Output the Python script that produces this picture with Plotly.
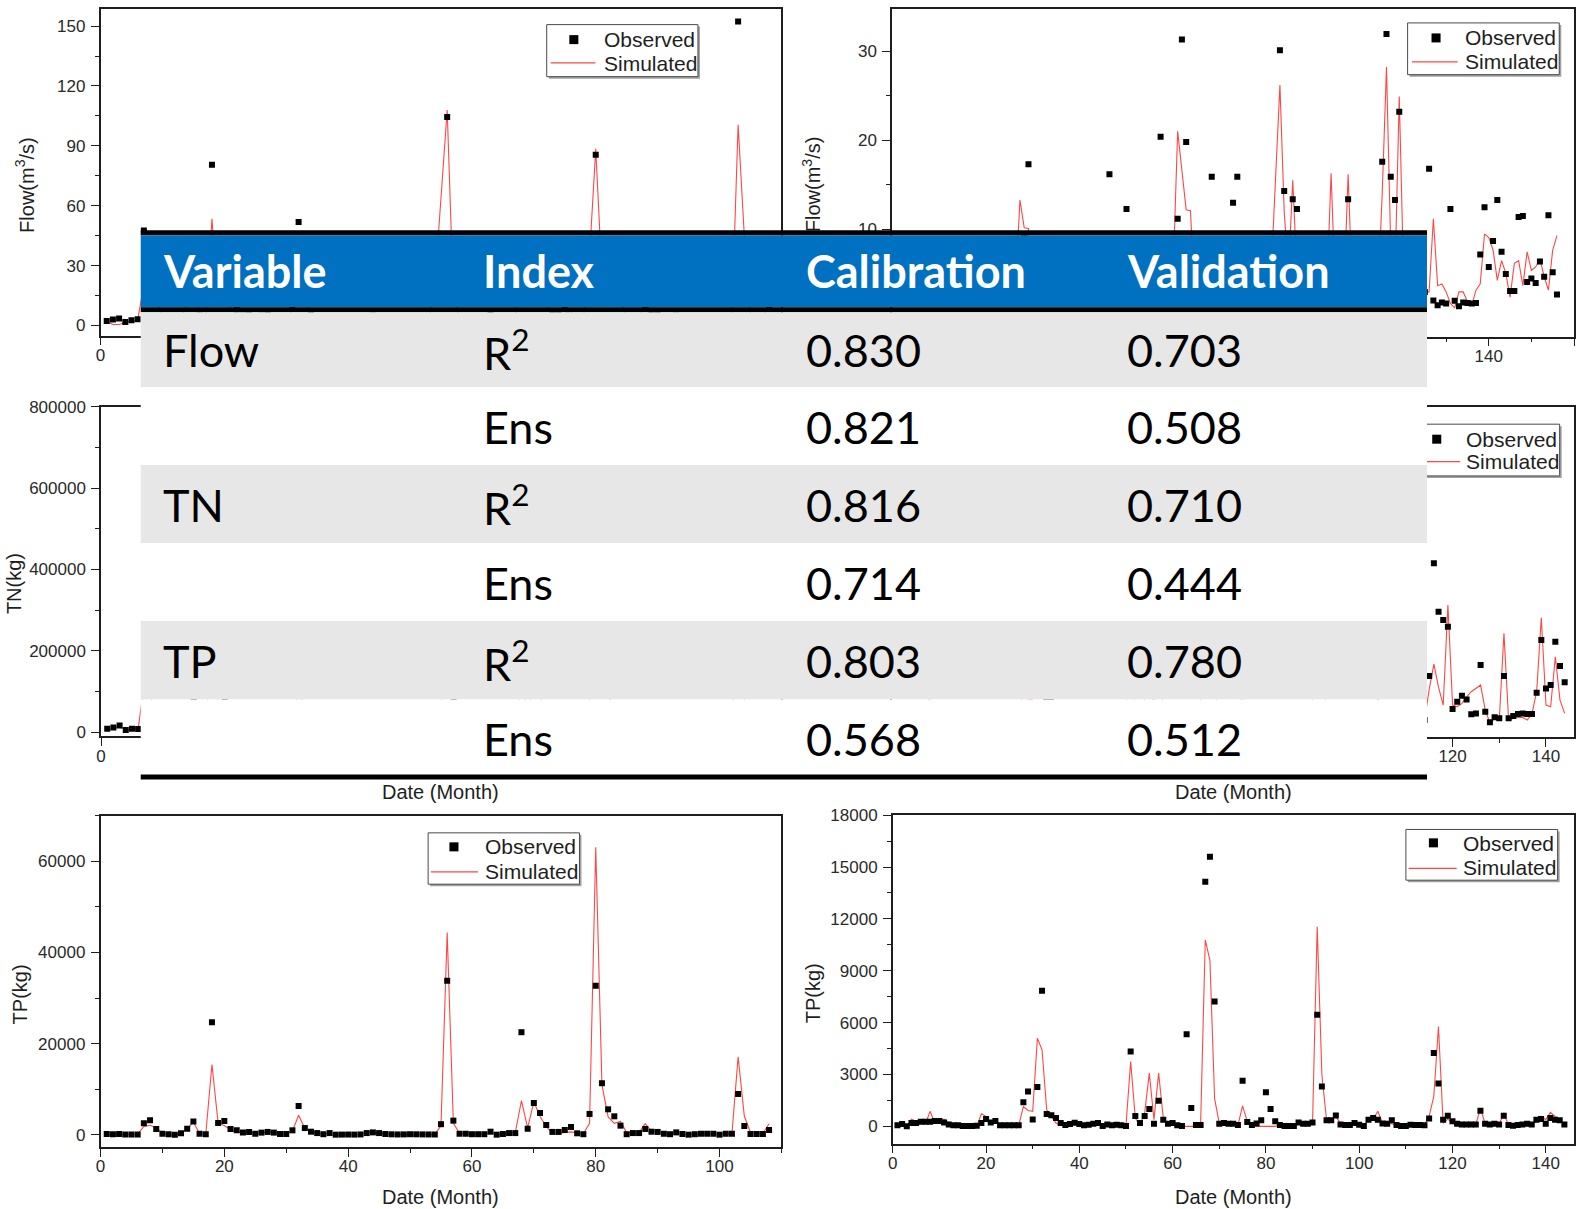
import plotly.graph_objects as go

W, H = 1585, 1209          # figure size (and target picture size)
# The page adds a body margin and the captured page is fitted back to W x H.
# Positions below are given in picture pixels and mapped back to figure fractions.
PAD = 8
SX, SY = W / (W + 2 * PAD), H / (H + 2 * PAD)
KX, BX = 1.002, -1.0       # small residual horizontal correction
BY = -1.5                  # small residual vertical correction

# ---------------- data ----------------
# Flow calibration (months 1..108)
flow_cal_obs = [2.3, 3.0, 3.5, 1.8, 2.6, 3.1, 47.6, 30.5, 12.0, 4.5,
                3.0, 2.5, 4.0, 12.5, 25.0, 5.0, 3.5, 80.5, 22.0, 28.0,
                12.0, 8.0, 5.0, 6.0, 3.5, 5.0, 6.0, 4.5, 3.0, 3.0,
                9.0, 51.8, 14.0, 7.0, 4.0, 2.5, 4.0, 2.0, 2.0, 2.0,
                2.0, 2.5, 4.0, 5.0, 4.0, 2.5, 2.0, 2.0, 2.0, 2.5,
                2.0, 2.0, 2.0, 2.0, 18.0, 104.5, 25.0, 4.0, 3.5, 3.0,
                3.0, 3.0, 6.5, 2.5, 3.0, 4.0, 4.0, 40.0, 11.0, 28.0,
                22.0, 14.0, 6.0, 6.0, 9.0, 13.0, 4.0, 3.0, 30.0, 85.6,
                38.0, 24.0, 18.0, 11.0, 3.0, 4.0, 4.0, 10.0, 6.0, 6.0,
                3.0, 2.5, 5.0, 3.0, 2.0, 2.5, 3.0, 3.0, 3.0, 2.0,
                3.0, 3.0, 152.3, 15.0, 3.0, 3.0, 3.0, 9.0]
flow_cal_sim = [2.0, 0.5, 0.5, 1.5, 2.0, 3.0, 20.0, 22.0, 14.0, 4.0,
                2.5, 2.0, 3.5, 11.0, 22.0, 4.0, 5.0, 53.5, 10.0, 16.0,
                9.0, 6.0, 5.0, 6.0, 3.0, 5.0, 6.0, 4.5, 3.0, 3.0,
                8.0, 35.0, 12.0, 6.0, 4.0, 2.0, 4.0, 1.5, 1.5, 1.5,
                1.5, 2.0, 4.0, 5.0, 4.0, 2.0, 1.5, 1.5, 1.5, 2.0,
                1.5, 1.5, 1.5, 20.0, 65.0, 108.0, 15.0, 4.0, 3.0, 2.5,
                2.5, 2.5, 5.0, 2.0, 3.0, 4.0, 4.5, 30.0, 12.0, 30.0,
                18.0, 11.0, 4.0, 4.0, 6.0, 7.0, 4.0, 3.0, 35.0, 88.5,
                25.0, 17.0, 12.0, 13.0, 4.0, 4.0, 4.0, 12.0, 6.0, 5.0,
                3.0, 2.0, 4.0, 2.0, 1.5, 2.0, 2.5, 2.5, 2.5, 1.5,
                2.5, 5.0, 100.6, 45.0, 5.0, 3.0, 3.0, 12.0]

# Flow validation (months 1..156)
flow_val_obs = [3.5, 4.0, 3.2, 5.1, 4.8, 6.0, 5.5, 6.2, 5.9, 5.0,
                4.2, 3.1, 2.5, 2.4, 2.2, 2.3, 2.6, 3.0, 4.5, 6.5,
                5.0, 5.8, 3.0, 2.5, 2.4, 2.6, 2.8, 7.5, 8.8, 4.5,
                9.2, 17.3, 6.5, 5.5, 4.0, 2.5, 2.2, 2.8, 3.0, 2.6,
                2.4, 2.8, 3.2, 3.5, 2.2, 2.5, 2.3, 2.6, 2.4, 2.2,
                16.2, 5.8, 3.0, 5.5, 12.3, 3.0, 8.0, 4.5, 3.0, 2.8,
                2.5, 2.4, 20.4, 7.5, 2.5, 2.6, 11.2, 31.3, 19.8, 4.0,
                3.2, 3.5, 3.0, 2.8, 15.9, 5.0, 3.5, 3.0, 4.5, 13.0,
                15.9, 6.0, 3.0, 2.5, 2.4, 2.6, 3.5, 3.0, 3.2, 4.0,
                30.1, 14.3, 4.5, 13.4, 12.3, 4.0, 3.0, 2.8, 3.5, 2.6,
                2.4, 4.5, 5.2, 6.0, 3.0, 2.8, 13.4, 3.5, 2.5, 2.4,
                2.2, 2.3, 2.6, 4.0, 17.6, 31.9, 15.9, 13.3, 23.2, 4.5,
                3.5, 2.5, 2.4, 2.6, 3.0, 16.8, 2.05, 1.5, 1.8, 1.7,
                12.3, 2.0, 1.4, 1.8, 1.75, 1.7, 1.75, 7.2, 12.5, 5.8,
                8.7, 13.3, 7.5, 5.0, 3.1, 3.1, 11.4, 11.5, 4.1, 4.5,
                4.0, 6.4, 4.7, 11.6, 5.2, 2.7]
flow_val_sim = [2.0, 2.5, 3.0, 4.0, 4.5, 5.0, 5.5, 5.0, 4.5, 4.0,
                3.0, 2.5, 2.0, 1.8, 1.8, 2.0, 2.2, 3.0, 5.0, 6.0,
                4.5, 5.0, 2.5, 2.0, 2.0, 2.2, 2.5, 6.0, 4.0, 13.3,
                10.2, 10.1, 4.0, 3.0, 2.5, 2.0, 2.0, 2.2, 2.5, 2.0,
                2.0, 2.2, 2.5, 2.8, 2.0, 2.0, 2.0, 2.0, 2.0, 2.0,
                2.5, 3.0, 2.5, 2.5, 3.0, 2.5, 3.0, 2.5, 2.0, 2.0,
                2.0, 2.0, 3.0, 3.0, 2.5, 6.0, 21.0, 16.5, 12.2, 12.1,
                3.0, 2.5, 2.5, 2.5, 4.0, 3.0, 2.5, 2.5, 2.5, 3.0,
                3.5, 2.5, 2.5, 2.0, 2.0, 2.0, 2.5, 2.5, 5.8, 16.0,
                26.2, 12.0, 5.0, 15.5, 5.0, 3.0, 2.5, 2.5, 2.5, 2.0,
                2.0, 3.0, 16.3, 3.0, 2.5, 3.0, 16.2, 3.0, 2.0, 2.0,
                2.0, 2.0, 2.5, 3.0, 14.0, 28.2, 8.0, 5.0, 24.9, 5.0,
                3.0, 2.5, 2.5, 2.5, 3.0, 3.0, 11.2, 3.7, 3.9, 3.0,
                1.7, 1.2, 3.0, 3.0, 1.9, 1.5, 3.2, 3.9, 9.5, 9.1,
                7.7, 4.3, 6.5, 5.1, 2.4, 6.2, 6.5, 3.7, 7.5, 5.4,
                5.8, 6.7, 4.7, 3.2, 7.7, 9.3]

# TN calibration (months 1..108)
tn_cal_obs = [8800, 12300, 17200, 5700, 8800, 8100, 95000, 110000, 45000, 20000,
              12000, 9000, 15000, 40000, 80000, 15000, 10000, 420000, 70000, 85000,
              40000, 30000, 18000, 22000, 12000, 18000, 22000, 16000, 10000, 10000,
              35000, 160000, 45000, 22000, 14000, 9000, 14000, 7000, 7000, 7000,
              7000, 9000, 14000, 18000, 14000, 9000, 7000, 7000, 7000, 9000,
              7000, 7000, 7000, 7000, 60000, 560000, 80000, 12000, 11000, 10000,
              10000, 10000, 22000, 8000, 10000, 14000, 14000, 360000, 40000, 150000,
              110000, 55000, 20000, 20000, 30000, 45000, 12000, 9000, 110000, 520000,
              230000, 120000, 90000, 45000, 9000, 12000, 12000, 35000, 20000, 18000,
              9000, 8000, 15000, 9000, 7000, 8000, 9000, 9000, 9000, 7000,
              9000, 9000, 200000, 50000, 9000, 9000, 9000, 30000]
tn_cal_sim = [6000, 9000, 14000, 6000, 7000, 9000, 120000, 90000, 40000, 15000,
              9000, 7000, 12000, 35000, 70000, 12000, 8000, 300000, 60000, 65000,
              35000, 25000, 15000, 20000, 10000, 15000, 20000, 14000, 8000, 8000,
              30000, 110000, 40000, 20000, 12000, 8000, 12000, 6000, 6000, 6000,
              6000, 8000, 12000, 15000, 12000, 8000, 6000, 6000, 6000, 8000,
              6000, 6000, 6000, 6000, 50000, 650000, 70000, 10000, 9000, 9000,
              9000, 9000, 18000, 7000, 9000, 12000, 12000, 140000, 35000, 160000,
              90000, 45000, 15000, 15000, 25000, 30000, 12000, 8000, 70000, 700000,
              210000, 90000, 60000, 70000, 9000, 12000, 12000, 45000, 18000, 16000,
              8000, 7000, 12000, 8000, 6000, 7000, 8000, 8000, 8000, 6000,
              8000, 8000, 330000, 80000, 10000, 8000, 8000, 45000]

# TN validation (months 1..144)
tn_val_obs = [12000, 15000, 9000, 18000, 16000, 22000, 20000, 25000, 21000, 17000,
              14000, 9000, 6000, 5000, 4000, 4000, 5000, 6000, 15000, 30000,
              18000, 20000, 7000, 5000, 5000, 6000, 7000, 60000, 90000, 20000,
              110000, 380000, 40000, 35000, 25000, 12000, 6000, 9000, 12000, 9000,
              6000, 7000, 9000, 12000, 4000, 8000, 5000, 7000, 5000, 4000,
              200000, 30000, 12000, 30000, 50000, 9000, 70000, 20000, 9000, 12000,
              5000, 4000, 250000, 50000, 6000, 6000, 480000, 460000, 300000, 9000,
              12000, 10000, 9000, 6000, 120000, 15000, 6000, 10000, 18000, 90000,
              50000, 15000, 5000, 4000, 4000, 4000, 12000, 9000, 9000, 12000,
              280000, 100000, 18000, 18000, 30000, 7000, 5000, 5000, 10000, 6000,
              4000, 18000, 22000, 18000, 9000, 8000, 16000, 5000, 4000, 4000,
              6000, 5000, 5000, 6300, 75600, 253200, 177000, 163900, 153300, 23600,
              35100, 44600, 38900, 15300, 16800, 93000, 19400, 2700, 10600, 9000,
              75600, 9000, 12600, 15800, 16800, 15800, 15800, 49300, 132400, 56200,
              61500, 129700, 91400, 65700]
tn_val_sim = [8000, 10000, 12000, 20000, 18000, 16000, 15000, 40000, 16000, 14000,
              20000, 10000, 4000, 3000, 3000, 3000, 3000, 4000, 30000, 25000,
              12000, 18000, 5000, 4000, 4000, 5000, 5000, 50000, 40000, 38000,
              220000, 190000, 45000, 28000, 10000, 5000, 5000, 7000, 9000, 7000,
              5000, 6000, 8000, 10000, 5000, 6000, 5000, 6000, 5000, 4000,
              160000, 25000, 6000, 35000, 140000, 18000, 140000, 25000, 7000, 5000,
              3000, 3000, 3000, 3000, 3000, 6000, 420000, 380000, 70000, 9000,
              10000, 9000, 7000, 5000, 50000, 12000, 5000, 3000, 3000, 3000,
              3000, 3000, 5000, 3000, 3000, 3000, 9000, 7000, 7000, 10000,
              450000, 120000, 18000, 20000, 28000, 7000, 5000, 5000, 8000, 5000,
              4000, 18000, 20000, 40000, 9000, 7000, 7000, 4000, 3000, 3000,
              4000, 4000, 4000, 6300, 55000, 94500, 57800, 29900, 187500, 29900,
              27300, 32600, 43000, 51000, 56200, 61500, 22000, 2100, 8900, 6300,
              142900, 6300, 8900, 10500, 10500, 6300, 16800, 50900, 167600, 29900,
              27300, 106100, 37800, 16800]

# TP calibration (months 1..108)
tp_cal_obs = [120, 100, 150, 50, 60, 40, 2500, 3150, 1250, 200,
              100, 0, 300, 1300, 2900, 200, 100, 24700, 2550, 3000,
              1250, 950, 450, 600, 200, 450, 600, 450, 150, 150,
              950, 6300, 1450, 650, 350, 100, 350, 0, 20, 30,
              20, 50, 350, 500, 350, 150, 80, 50, 60, 100,
              80, 60, 50, 40, 2300, 33800, 3080, 200, 200, 100,
              100, 100, 650, 0, 150, 350, 350, 22500, 1300, 6960,
              4760, 2130, 600, 600, 1030, 1690, 300, 100, 4550, 32700,
              11300, 5570, 4030, 1980, 100, 350, 350, 1250, 650, 600,
              200, 100, 500, 150, 0, 100, 200, 200, 200, 0,
              200, 200, 8940, 1900, 150, 150, 150, 1030]
tp_cal_sim = [0, 0, 0, 0, 0, 100, 1800, 2050, 1500, 300,
              100, 0, 300, 1300, 2800, 200, 100, 15400, 2500, 2000,
              1000, 600, 450, 600, 200, 450, 600, 450, 150, 150,
              800, 4250, 1400, 600, 350, 100, 350, 0, 0, 0,
              0, 50, 350, 500, 350, 150, 50, 50, 50, 100,
              50, 50, 0, 0, 2000, 44400, 2500, 300, 200, 100,
              100, 100, 500, 0, 150, 350, 400, 7500, 1500, 7200,
              4000, 1800, 300, 300, 500, 600, 400, 200, 2500, 63100,
              11000, 3900, 2500, 2900, 400, 500, 500, 2400, 800, 700,
              200, 100, 500, 150, 0, 100, 200, 200, 200, 0,
              200, 200, 17100, 4100, 500, 300, 300, 2400]

# TP validation (months 1..144)
tp_val_obs = [60, 135, 0, 190, 190, 270, 270, 270, 310, 310,
              230, 115, 60, 60, 20, 20, 20, 40, 190, 420,
              230, 310, 60, 60, 60, 60, 60, 1390, 2020, 400,
              2270, 7850, 710, 650, 480, 190, 80, 135, 210, 135,
              60, 100, 150, 190, 20, 115, 60, 100, 60, 20,
              4330, 600, 190, 600, 1000, 150, 1480, 385, 150, 190,
              60, 20, 5330, 1060, 80, 80, 14150, 15590, 7220, 150,
              190, 150, 150, 80, 2640, 250, 80, 170, 350, 1980,
              1000, 290, 80, 20, 20, 20, 230, 150, 150, 230,
              6450, 2310, 350, 350, 635, 115, 80, 80, 190, 100,
              20, 385, 480, 385, 170, 150, 350, 80, 20, 20,
              100, 80, 80, 60, 460, 4250, 2480, 385, 615, 290,
              150, 115, 115, 115, 115, 900, 150, 115, 150, 115,
              615, 80, 40, 80, 115, 150, 115, 385, 420, 150,
              480, 385, 350, 115]
tp_val_sim = [0, 60, 0, 420, 290, 190, 150, 870, 190, 230,
              420, 190, 0, 0, 0, 0, 0, 0, 730, 580,
              190, 385, 60, 60, 60, 60, 60, 1150, 920, 870,
              5100, 4430, 960, 580, 190, 60, 60, 100, 150, 100,
              60, 100, 150, 150, 60, 100, 60, 100, 60, 40,
              3750, 480, 60, 770, 3080, 385, 3080, 480, 100, 60,
              0, 0, 0, 0, 0, 100, 10780, 9600, 1600, 190,
              190, 190, 190, 60, 1190, 290, 100, 0, 0, 0,
              0, 0, 80, 20, 20, 20, 190, 150, 150, 190,
              11550, 3000, 385, 420, 580, 150, 80, 80, 150, 100,
              60, 385, 420, 870, 190, 150, 150, 60, 20, 20,
              60, 60, 60, 100, 580, 1730, 5775, 190, 420, 190,
              100, 100, 100, 100, 100, 1060, 150, 80, 80, 80,
              770, 80, 100, 100, 100, 100, 100, 290, 580, 385,
              810, 580, 385, 150]

# tick labels left visible by the table overlay (None = all)
x_ticklabels = [[0], [140, 160], [0], [120, 140], None, None]
y_ticklabels = [None, [10, 20, 30], None, [], None, None]

# table content
table_header = ["Variable", "Index", "Calibration", "Validation"]
table_variable = ["Flow", "", "TN", "", "TP", ""]
table_index = ["R<sup>2</sup>", "Ens", "R<sup>2</sup>", "Ens", "R<sup>2</sup>", "Ens"]
table_calibration = ["0.830", "0.821", "0.816", "0.714", "0.803", "0.568"]
table_validation = ["0.703", "0.508", "0.710", "0.444", "0.780", "0.512"]

assert len(flow_cal_obs) == 108 and len(flow_cal_sim) == 108
assert len(flow_val_obs) == 156 and len(flow_val_sim) == 156
assert len(tn_cal_obs) == 108 and len(tn_cal_sim) == 108
assert len(tn_val_obs) == 144 and len(tn_val_sim) == 144
assert len(tp_cal_obs) == 108 and len(tp_cal_sim) == 108
assert len(tp_val_obs) == 144 and len(tp_val_sim) == 144

# ---------------- layout helpers (picture pixel -> paper fraction) ----------------
def fx(px):
    px = (px - BX) / KX
    return (px / SX - PAD) / W


def fy(py):
    py = py + BY
    return 1 - (py / SY - PAD) / H


def clamp(v):
    return min(1.0, max(0.0, v))


AX = "#1e1e1e"
TICKFONT = dict(family="Liberation Sans, Arial, sans-serif", size=17, color="#2a2a2a")
RED = "rgb(255,70,70)"

panels = [
    dict(obs=flow_cal_obs, sim=flow_cal_sim, x=(102, 779.6), y=(9.5, 335.7), xr=[0, 110], yr=[-5, 158.5], xd=20, yd=30),
    dict(obs=flow_val_obs, sim=flow_val_sim, x=(889.7, 1568.3), y=(9.5, 336.7), xr=[0, 160], yr=[-2, 34.7], xd=20, yd=10),
    dict(obs=tn_cal_obs, sim=tn_cal_sim, x=(102.5, 779.6), y=(406.7, 736.4), xr=[0, 110], yr=[-10000, 800000], xd=20, yd=200000),
    dict(obs=tn_val_obs, sim=tn_val_sim, x=(889.7, 1568.3), y=(406.7, 736.7), xr=[0, 146], yr=[-20000, 500000], xd=20, yd=100000),
    dict(obs=tp_cal_obs, sim=tp_cal_sim, x=(102, 779.6), y=(815.8, 1146.6), xr=[0, 110], yr=[-2700, 70000], xd=20, yd=20000),
    dict(obs=tp_val_obs, sim=tp_val_sim, x=(890.4, 1568), y=(815, 1143.3), xr=[0, 146], yr=[-1000, 18000], xd=20, yd=3000),
]

fig = go.Figure()
layout_axes = {}
for i, p in enumerate(panels):
    s = "" if i == 0 else str(i + 1)
    months = list(range(1, len(p["obs"]) + 1))
    fig.add_trace(go.Scatter(x=months, y=p["sim"], mode="lines", name="Simulated",
                             line=dict(color=RED, width=1.1), xaxis="x" + s, yaxis="y" + s,
                             showlegend=False))
    fig.add_trace(go.Scatter(x=months, y=p["obs"], mode="markers", name="Observed",
                             marker=dict(symbol="square", size=6, color="black"),
                             xaxis="x" + s, yaxis="y" + s, showlegend=False))
    common = dict(showgrid=False, zeroline=False, showline=True, mirror=True,
                  linecolor=AX, linewidth=1.5, ticks="outside", ticklen=8, tickwidth=1.3,
                  tickcolor=AX, tickfont=TICKFONT, tickformat="d")
    xa = dict(domain=[clamp(fx(p["x"][0])), clamp(fx(p["x"][1]))], range=p["xr"], anchor="y" + s,
              ticklabelstandoff=-5,
              minor=dict(ticks="outside", ticklen=4, tickwidth=1.2, tickcolor=AX,
                         tick0=0, dtick=p["xd"] / 2), **common)
    if x_ticklabels[i] is None:
        xa.update(tick0=0, dtick=p["xd"])
    else:
        xa.update(tickmode="array", tickvals=x_ticklabels[i])
    ya = dict(domain=[clamp(fy(p["y"][1])), clamp(fy(p["y"][0]))], range=p["yr"], anchor="x" + s,
              ticklabelstandoff=2,
              minor=dict(ticks="outside", ticklen=4, tickwidth=1.2, tickcolor=AX,
                         tick0=0, dtick=p["yd"] / 2), **common)
    if y_ticklabels[i] is None:
        ya.update(tick0=0, dtick=p["yd"])
    else:
        ya.update(tickmode="array", tickvals=y_ticklabels[i])
    layout_axes["xaxis" + s] = xa
    layout_axes["yaxis" + s] = ya

shapes = []
annotations = []


def rect(x0, y0, x1, y1, fill, line_color=None, lw=0):
    shapes.append(dict(type="rect", xref="paper", yref="paper", layer="above",
                       x0=fx(x0), x1=fx(x1), y0=fy(y1), y1=fy(y0), fillcolor=fill,
                       line=dict(color=line_color or fill, width=lw)))


def hline(x0, x1, y, color, width):
    shapes.append(dict(type="line", xref="paper", yref="paper", layer="above",
                       x0=fx(x0), x1=fx(x1), y0=fy(y), y1=fy(y),
                       line=dict(color=color, width=width)))


def text(s, x, y, size, color="#1e1e1e", family="Liberation Sans, Arial, sans-serif",
         xanchor="left", angle=0):
    annotations.append(dict(text=s, x=fx(x), y=fy(y), xref="paper", yref="paper",
                            xanchor=xanchor, yanchor="middle", showarrow=False,
                            textangle=angle, font=dict(family=family, size=size, color=color)))


def legend(box, mk, ln, tx, ty):
    x0, y0, x1, y1 = box
    rect(x0 + 2, y0 + 2, x1 + 2, y1 + 2, "#a0a0a0")
    rect(x0, y0, x1, y1, "white", "#4a4a4a", 1)
    rect(mk[0] - 4.5, mk[1] - 4.5, mk[0] + 4.5, mk[1] + 4.5, "black")
    hline(ln[0], ln[1], ln[2], RED, 1.2)
    text("Observed", tx, ty[0], 21)
    text("Simulated", tx, ty[1], 21)


legend((546, 25, 696.5, 77), (573, 40), (550, 594.5, 63.3), 601, (40, 63.5))
legend((1402.7, 23.3, 1553.6, 75), (1431, 38.3), (1407, 1452.5, 62.3), 1458, (38, 62))
legend((1403, 424.3, 1554, 476), (1431.7, 439.3), (1407, 1455, 461.7), 1459, (439.5, 461.7))
legend((428, 832.7, 578.6, 884), (453.7, 846.7), (430.8, 477.6, 871.7), 482.6, (846.7, 871))
legend((1401, 829.3, 1552, 880), (1428.4, 842.7), (1403.7, 1451.5, 868.3), 1455.6, (843, 867))

# axis titles
text("Flow(m<sup>3</sup>/s)", 27, 185, 20, xanchor="center", angle=-90)
text("Flow(m<sup>3</sup>/s)", 809.5, 184, 20, xanchor="center", angle=-90)
text("TN(kg)", 16, 584, 20, xanchor="center", angle=-90)
text("TP(kg)", 22, 994, 20, xanchor="center", angle=-90)
text("TP(kg)", 811, 993, 20, xanchor="center", angle=-90)
for cx, cy in [(440.7, 791.5), (1229, 791.5), (440.7, 1197), (1229, 1197)]:
    text("Date (Month)", cx, cy, 20, xanchor="center")

# ---------------- table overlay ----------------
TX0, TX1 = 142, 1422
rect(TX0, 230.5, TX1, 235.5, "black")
rect(TX0, 235.5, TX1, 307.5, "#0070c0")
rect(TX0, 307.5, TX1, 312.5, "black")
row_edges = [312.5, 387.5, 465, 543, 621, 699.5, 774.5]
for r in range(6):
    rect(TX0, row_edges[r], TX1, row_edges[r + 1], "#e7e7e7" if r % 2 == 0 else "white")
rect(TX0, 774.5, TX1, 779.5, "black")

col_x = [162, 481, 801.6, 1121]
TFONT = "Lato, Noto Sans, sans-serif"
for cx, h in zip(col_x, table_header):
    text("<b>" + h + "</b>", cx, 271, 45, color="white", family=TFONT)
row_y = [349.8, 427.6, 505.4, 583.3, 661, 739]
for r in range(6):
    vals = [table_variable[r], table_index[r], table_calibration[r], table_validation[r]]
    for cx, v in zip(col_x, vals):
        if v:
            text(v, cx, row_y[r], 45, color="black", family=TFONT)

fig.update_layout(width=W, height=H, autosize=False, margin=dict(l=0, r=0, t=0, b=0),
                  paper_bgcolor="white", plot_bgcolor="white", showlegend=False,
                  shapes=shapes, annotations=annotations, **layout_axes)

fig.write_html("out.html", config={"displayModeBar": False})
